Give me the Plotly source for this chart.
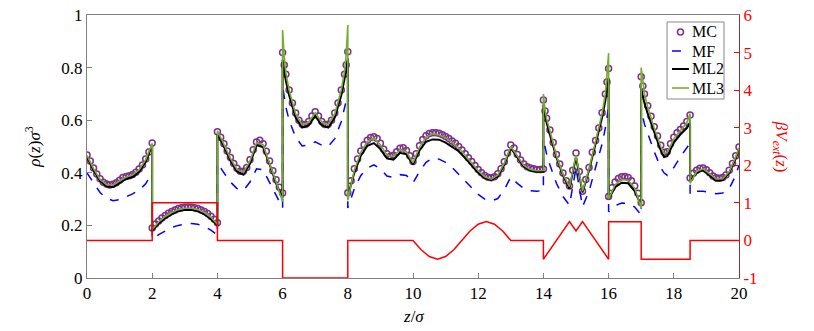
import plotly.graph_objects as go

# ---------------- data ----------------
# Monte Carlo density (markers), sampled along z/sigma
z_mc = [0.0, 0.1, 0.2, 0.3, 0.4, 0.5, 0.6, 0.7, 0.8, 0.9, 1.0, 1.1, 1.2, 1.3, 1.4, 1.5, 1.6, 1.7, 1.8, 1.9, 2.0,
        2.0, 2.1, 2.2, 2.3, 2.4, 2.5, 2.6, 2.7, 2.8, 2.9, 3.0, 3.1, 3.2, 3.3, 3.4, 3.5, 3.6, 3.7, 3.8, 3.9, 4.0,
        4.0, 4.1, 4.2, 4.3, 4.4, 4.5, 4.6, 4.7, 4.8, 4.9, 5.0, 5.1, 5.2, 5.3, 5.4, 5.5, 5.6, 5.7, 5.8, 5.9, 6.0,
        6.0, 6.05, 6.1, 6.2, 6.3, 6.4, 6.5, 6.6, 6.7, 6.8, 6.9, 7.0, 7.1, 7.2, 7.3, 7.4, 7.5, 7.6, 7.7, 7.8, 7.9, 7.95, 8.0,
        8.0, 8.1, 8.2, 8.3, 8.4, 8.5, 8.6, 8.7, 8.8, 8.9, 9.0, 9.1, 9.2, 9.3, 9.4, 9.5, 9.6, 9.7, 9.8, 9.9,
        10.0, 10.1, 10.2, 10.3, 10.4, 10.5, 10.6, 10.7, 10.8, 10.9, 11.0, 11.1, 11.2, 11.3, 11.4, 11.5, 11.6, 11.7, 11.8, 11.9,
        12.0, 12.1, 12.2, 12.3, 12.4, 12.5, 12.6, 12.7, 12.8, 12.9, 13.0, 13.1, 13.2, 13.3, 13.4, 13.5, 13.6, 13.7, 13.8, 13.9, 14.0,
        14.0, 14.05, 14.1, 14.2, 14.3, 14.4, 14.5, 14.6, 14.7, 14.8, 14.9, 15.0, 15.1, 15.2, 15.3, 15.4, 15.5, 15.6, 15.7, 15.8, 15.9, 15.95, 16.0,
        16.0, 16.1, 16.2, 16.3, 16.4, 16.5, 16.6, 16.7, 16.8, 16.9, 17.0,
        17.0, 17.05, 17.1, 17.2, 17.3, 17.4, 17.5, 17.6, 17.7, 17.8, 17.9, 18.0, 18.1, 18.2, 18.3, 18.4, 18.5,
        18.5, 18.6, 18.7, 18.8, 18.9, 19.0, 19.1, 19.2, 19.3, 19.4, 19.5, 19.6, 19.7, 19.8, 19.9, 20.0]
mc = [0.468, 0.445, 0.418, 0.395, 0.377, 0.364, 0.357, 0.354, 0.356, 0.362, 0.372, 0.382, 0.386, 0.389, 0.394, 0.402, 0.414, 0.430, 0.452, 0.479, 0.513,
      0.190, 0.205, 0.217, 0.228, 0.238, 0.246, 0.253, 0.259, 0.264, 0.267, 0.269, 0.270, 0.269, 0.267, 0.264, 0.259, 0.253, 0.245, 0.235, 0.223, 0.210,
      0.556, 0.535, 0.510, 0.483, 0.458, 0.435, 0.417, 0.406, 0.406, 0.420, 0.450, 0.488, 0.517, 0.524, 0.510, 0.482, 0.445, 0.408, 0.374, 0.345, 0.323,
      0.857, 0.810, 0.775, 0.715, 0.665, 0.627, 0.600, 0.585, 0.584, 0.595, 0.616, 0.632, 0.616, 0.595, 0.584, 0.585, 0.600, 0.627, 0.665, 0.715, 0.775, 0.810, 0.860,
      0.324, 0.370, 0.415, 0.452, 0.483, 0.507, 0.524, 0.534, 0.537, 0.530, 0.512, 0.490, 0.472, 0.463, 0.467, 0.480, 0.493, 0.495, 0.485, 0.465,
      0.443, 0.472, 0.503, 0.527, 0.541, 0.549, 0.552, 0.552, 0.550, 0.545, 0.538, 0.530, 0.521, 0.512, 0.500, 0.487, 0.472, 0.457, 0.443, 0.428,
      0.413, 0.400, 0.390, 0.383, 0.381, 0.385, 0.396, 0.415, 0.442, 0.475, 0.506, 0.494, 0.470, 0.449, 0.433, 0.423, 0.418, 0.415, 0.413, 0.413, 0.414,
      0.677, 0.635, 0.607, 0.563, 0.515, 0.470, 0.433, 0.399, 0.370, 0.350, 0.410, 0.475, 0.405, 0.330, 0.375, 0.420, 0.478, 0.523, 0.570, 0.628, 0.700, 0.745, 0.797,
      0.310, 0.343, 0.365, 0.378, 0.385, 0.386, 0.382, 0.370, 0.350, 0.322, 0.286,
      0.765, 0.730, 0.700, 0.655, 0.615, 0.575, 0.540, 0.505, 0.478, 0.480, 0.510, 0.535, 0.552, 0.565, 0.578, 0.595, 0.620,
      0.380, 0.398, 0.410, 0.417, 0.418, 0.412, 0.400, 0.388, 0.381, 0.379, 0.382, 0.392, 0.410, 0.435, 0.465, 0.498]

# theory curves share one z grid (walls appear twice: left value, right value)
z_line = [0.0, 0.2, 0.4, 0.6, 0.8, 1.0, 1.2, 1.4, 1.6, 1.8, 2.0,
          2.0, 2.2, 2.4, 2.6, 2.8, 3.0, 3.2, 3.4, 3.6, 3.8, 4.0,
          4.0, 4.2, 4.4, 4.6, 4.8, 5.0, 5.2, 5.4, 5.6, 5.8, 6.0,
          6.0, 6.05, 6.1, 6.2, 6.4, 6.6, 6.8, 7.0, 7.2, 7.4, 7.6, 7.8, 7.9, 7.95, 8.0,
          8.0, 8.2, 8.4, 8.6, 8.8, 9.0, 9.2, 9.4, 9.6, 9.8, 10.0, 10.2, 10.4, 10.6, 10.8, 11.0,
          11.2, 11.4, 11.6, 11.8, 12.0, 12.2, 12.4, 12.6, 12.8, 13.0, 13.2, 13.4, 13.6, 13.8, 14.0,
          14.0, 14.05, 14.1, 14.2, 14.4, 14.6, 14.8, 15.0, 15.2, 15.4, 15.6, 15.8, 15.9, 16.0,
          16.0, 16.2, 16.4, 16.6, 16.8, 17.0,
          17.0, 17.05, 17.1, 17.2, 17.4, 17.6, 17.7, 17.8, 18.0, 18.2, 18.4, 18.5,
          18.5, 18.7, 18.9, 19.1, 19.3, 19.5, 19.7, 19.9, 20.0]
mf = [0.400, 0.360, 0.325, 0.303, 0.294, 0.298, 0.308, 0.320, 0.334, 0.358, 0.400,
      0.148, 0.165, 0.180, 0.192, 0.200, 0.205, 0.207, 0.204, 0.196, 0.182, 0.163,
      0.437, 0.400, 0.365, 0.340, 0.333, 0.365, 0.415, 0.412, 0.362, 0.310, 0.266,
      0.730, 0.680, 0.650, 0.600, 0.535, 0.502, 0.505, 0.518, 0.505, 0.500, 0.530, 0.595, 0.645, 0.670, 0.700,
      0.266, 0.340, 0.390, 0.418, 0.430, 0.415, 0.388, 0.382, 0.393, 0.390, 0.362, 0.405, 0.440, 0.456, 0.452, 0.440,
      0.420, 0.395, 0.370, 0.343, 0.318, 0.300, 0.293, 0.302, 0.335, 0.384, 0.360, 0.340, 0.332, 0.330, 0.333,
      0.530, 0.495, 0.470, 0.430, 0.360, 0.310, 0.277, 0.418, 0.271, 0.330, 0.420, 0.510, 0.570, 0.650,
      0.252, 0.275, 0.285, 0.284, 0.270, 0.240,
      0.640, 0.610, 0.585, 0.550, 0.480, 0.420, 0.400, 0.390, 0.420, 0.460, 0.495, 0.513,
      0.316, 0.330, 0.330, 0.325, 0.320, 0.323, 0.340, 0.390, 0.430]
ml2 = [0.460, 0.410, 0.369, 0.348, 0.346, 0.362, 0.377, 0.384, 0.404, 0.442, 0.505,
       0.180, 0.207, 0.228, 0.243, 0.254, 0.259, 0.259, 0.254, 0.243, 0.225, 0.200,
       0.548, 0.500, 0.447, 0.405, 0.393, 0.435, 0.505, 0.498, 0.433, 0.360, 0.305,
       0.830, 0.785, 0.750, 0.695, 0.610, 0.572, 0.580, 0.617, 0.580, 0.572, 0.610, 0.695, 0.750, 0.790, 0.835,
       0.310, 0.400, 0.465, 0.503, 0.513, 0.490, 0.455, 0.450, 0.476, 0.470, 0.432, 0.485, 0.518, 0.527, 0.526, 0.515,
       0.500, 0.482, 0.456, 0.428, 0.400, 0.380, 0.373, 0.386, 0.430, 0.495, 0.460, 0.424, 0.409, 0.404, 0.404,
       0.660, 0.625, 0.590, 0.545, 0.458, 0.390, 0.340, 0.460, 0.325, 0.410, 0.510, 0.610, 0.675, 0.760,
       0.300, 0.345, 0.362, 0.360, 0.330, 0.275,
       0.720, 0.690, 0.665, 0.625, 0.555, 0.485, 0.460, 0.463, 0.515, 0.545, 0.570, 0.590,
       0.370, 0.400, 0.410, 0.390, 0.370, 0.372, 0.400, 0.455, 0.490]
ml3 = [0.466, 0.416, 0.375, 0.355, 0.354, 0.370, 0.384, 0.392, 0.412, 0.450, 0.512,
       0.185, 0.213, 0.234, 0.249, 0.260, 0.265, 0.265, 0.260, 0.249, 0.231, 0.205,
       0.560, 0.508, 0.455, 0.413, 0.401, 0.445, 0.514, 0.507, 0.440, 0.365, 0.290,
       0.943, 0.840, 0.780, 0.715, 0.624, 0.583, 0.593, 0.628, 0.593, 0.583, 0.624, 0.715, 0.785, 0.850, 0.962,
       0.296, 0.410, 0.478, 0.520, 0.532, 0.507, 0.467, 0.462, 0.488, 0.480, 0.438, 0.498, 0.536, 0.547, 0.545, 0.533,
       0.516, 0.495, 0.467, 0.438, 0.408, 0.385, 0.376, 0.391, 0.437, 0.500, 0.465, 0.428, 0.413, 0.408, 0.409,
       0.700, 0.640, 0.605, 0.560, 0.465, 0.395, 0.347, 0.468, 0.330, 0.415, 0.518, 0.625, 0.700, 0.855,
       0.300, 0.355, 0.375, 0.372, 0.342, 0.266,
       0.800, 0.740, 0.700, 0.650, 0.570, 0.500, 0.474, 0.477, 0.530, 0.560, 0.590, 0.625,
       0.360, 0.405, 0.415, 0.396, 0.377, 0.378, 0.405, 0.460, 0.495]

# external potential beta*V_ext(z), right axis
z_ext = [0, 2, 2, 4, 4, 6, 6, 8, 8, 10, 10.25, 10.5, 10.75, 11.0, 11.25, 11.5, 11.75, 12.0, 12.25, 12.5, 12.75, 13,
         14, 14, 14.8, 15, 15.2, 16, 16, 17, 17, 18.5, 18.5, 20]
v_ext = [0, 0, 1, 1, 0, 0, -1, -1, 0, 0, -0.25, -0.43, -0.5, -0.43, -0.25, 0, 0.25, 0.43, 0.5, 0.43, 0.25, 0,
         0, -0.5, 0.5, 0.25, 0.5, -0.5, 0.5, 0.5, -0.5, -0.5, 0, 0]

assert len(z_mc) == len(mc)
assert len(z_line) == len(mf) == len(ml2) == len(ml3)

FONT = 'Liberation Serif'
PURPLE, BLUE, GREEN, RED = '#7E2F8E', '#0000FF', '#77AC30', '#FF0000'

data = [
    go.Scatter(x=z_mc, y=mc, mode='markers', name='MC',
               marker=dict(symbol='circle-open', size=6, color=PURPLE, line=dict(width=1.5))),
    go.Scatter(x=z_line, y=mf, mode='lines', name='MF',
               line=dict(color=BLUE, width=1.5, dash='dash')),
    go.Scatter(x=z_line, y=ml2, mode='lines', name='ML2',
               line=dict(color='black', width=2)),
    go.Scatter(x=z_line, y=ml3, mode='lines', name='ML3',
               line=dict(color=GREEN, width=1.6)),
    go.Scatter(x=z_ext, y=v_ext, mode='lines', yaxis='y2', name='ext',
               line=dict(color=RED, width=1.5)),
]

# compact boxed legend in the top right corner (paper coordinates)
leg_x0, leg_x1, leg_y0, leg_y1 = 0.8896, 0.977, 0.6806, 0.9734
sym_x0, sym_x1, txt_x = 0.8972, 0.9233, 0.9248
rows = [('MC', 0.9354), ('MF', 0.8631), ('ML2', 0.7947), ('ML3', 0.7224)]
shapes = [dict(type='rect', xref='paper', yref='paper', x0=leg_x0, x1=leg_x1, y0=leg_y0, y1=leg_y1,
               fillcolor='white', line=dict(color='#888888', width=1), layer='above')]
shapes.append(dict(type='circle', xref='paper', yref='paper', xsizemode='pixel', ysizemode='pixel',
                   xanchor=(sym_x0 + sym_x1) / 2, yanchor=rows[0][1], x0=-3, x1=3, y0=-3, y1=3,
                   line=dict(color=PURPLE, width=1.5)))
for (name, yy), col, dash, w in zip(rows[1:], [BLUE, 'black', GREEN], ['dash', 'solid', 'solid'], [1.5, 2, 1.6]):
    shapes.append(dict(type='line', xref='paper', yref='paper', x0=sym_x0, x1=sym_x1, y0=yy, y1=yy,
                       line=dict(color=col, width=w, dash=dash)))
annotations = [dict(text=name, xref='paper', yref='paper', x=txt_x, y=yy, xanchor='left',
                    yanchor='middle', showarrow=False, font=dict(size=16)) for name, yy in rows]

annotations += [
    dict(text='<i>ρ</i>(<i>z</i>)<i>σ</i><sup>3</sup>', xref='paper', yref='paper',
         x=-0.084, y=0.5, xanchor='center', yanchor='middle', textangle=-90,
         showarrow=False, font=dict(size=17)),
    dict(text='<i>βV</i><sub><i>ext</i></sub>(<i>z</i>)', xref='paper', yref='paper',
         x=1.064, y=0.5, xanchor='center', yanchor='middle', textangle=90,
         showarrow=False, font=dict(size=17, color=RED)),
    dict(text='<i>z</i>/<i>σ</i>', xref='paper', yref='paper',
         x=0.5, y=-0.148, xanchor='center', yanchor='middle',
         showarrow=False, font=dict(size=17)),
]

# the page body adds an 8px offset, so margins are trimmed by that much
layout = go.Layout(
    width=814, height=331,
    margin=dict(l=79, r=83, t=7, b=61, autoexpand=False),
    paper_bgcolor='white', plot_bgcolor='white',
    font=dict(family=FONT, size=17, color='black'),
    showlegend=False,
    xaxis=dict(range=[0, 20], tickvals=list(range(0, 21, 2)), ticks='inside', ticklen=5,
               tickcolor='#808080', showline=True, linecolor='#808080', linewidth=1,
               mirror=True, showgrid=False, zeroline=False, automargin=False,
               ticklabeloverflow='allow', layer='below traces'),
    yaxis=dict(range=[0, 1], dtick=0.2, ticks='inside', ticklen=5, tickcolor='#808080',
               showline=True, linecolor='#808080', linewidth=1, showgrid=False, zeroline=False,
               automargin=False, ticklabeloverflow='allow'),
    yaxis2=dict(range=[-1, 6], overlaying='y', side='right',
                tickvals=[-1, 0, 1, 2, 3, 4, 5, 6], ticktext=['-1', '0', '1', '2', '3', '4', '5', '6'],
                ticks='inside', ticklen=5, tickcolor=RED, tickfont=dict(color=RED),
                showline=True, linecolor='#7a3b3b', linewidth=1, showgrid=False, zeroline=False,
                automargin=False, ticklabeloverflow='allow'),
    shapes=shapes,
    annotations=annotations,
)

fig = go.Figure(data=data, layout=layout)
fig.write_html("out.html")
